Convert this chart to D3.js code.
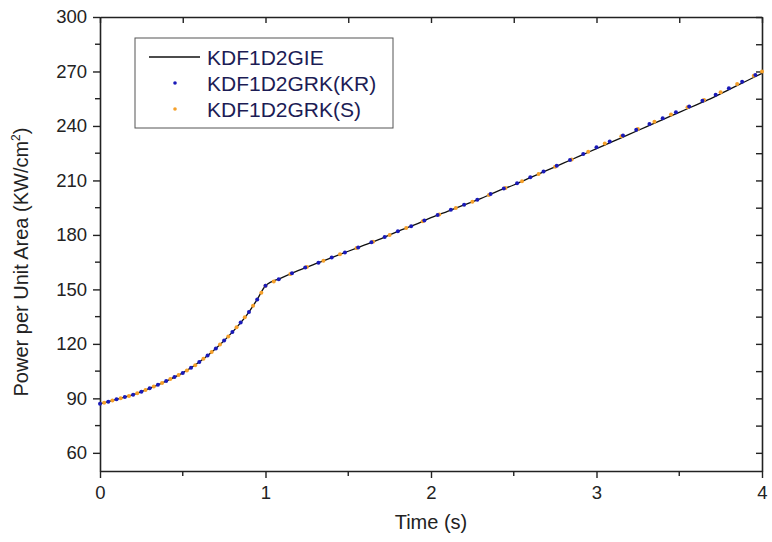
<!DOCTYPE html>
<html>
<head>
<meta charset="utf-8">
<script src="https://cdn.jsdelivr.net/npm/d3@7"></script>
<style>
body { margin:0; background:#fff; }
text { font-family: Arial, "Liberation Sans", sans-serif; }
</style>
</head>
<body>
<div class="chart"></div>
<script>
// KDF1D2GIE (solid line)
var lineTime = [0,0.1,0.2,0.3,0.4,0.5,0.6,0.7,0.8,0.9,0.95,1.0,1.1,1.2,1.3,1.4,1.5,1.6,1.7,1.8,1.9,2.0,
    2.1,2.2,2.3,2.4,2.5,2.6,2.7,2.8,2.9,3.0,3.1,3.2,3.3,3.4,3.5,3.6,3.7,3.8,3.9,4.0];
var linePower = [87,89.5,92,95.5,99.5,104,110,117.5,126.5,137.5,144.5,152,156.5,160.5,164,167.5,171,174.5,178,182,185.5,189.5,
    193,196.5,200,204,207.5,211.5,215.5,219.5,223.5,227.5,231.5,235.5,239.5,243.5,247.5,251.5,255.5,260,264.5,269];

// KDF1D2GRK(KR) dots
var krTime = [0,0.05,0.1,0.15,0.2,0.25,0.3,0.35,0.4,0.45,0.5,0.55,0.6,0.65,0.7,0.75,0.8,0.85,0.9,0.95,1.0,
    1.08,1.16,1.24,1.32,1.40,1.48,1.56,1.64,1.72,1.80,1.88,1.96,2.04,2.12,2.20,2.28,2.36,2.44,2.52,2.60,
    2.68,2.76,2.84,2.92,3.00,3.08,3.16,3.24,3.32,3.40,3.48,3.56,3.64,3.72,3.80,3.88,3.96];
var krPower = [87,88.2,89.5,90.7,92,93.7,95.5,97.5,99.5,101.7,104,106.8,110,113.6,117.5,121.8,126.5,131.8,137.5,144.5,152,
    155.6,158.9,162,164.7,167.5,170.3,173.1,175.9,178.8,182,184.8,187.9,191,193.8,196.6,199.4,202.5,205.5,208.4,211.7,
    214.9,218.1,221.3,224.5,228.3,231.5,234.7,237.9,241.1,244.3,247.5,250.7,253.9,257.2,260.8,264.4,268];

// KDF1D2GRK(S) dots
var sTime = [0.025,0.075,0.125,0.175,0.225,0.275,0.325,0.375,0.425,0.475,0.525,0.575,0.625,0.675,0.725,0.775,0.825,0.875,0.925,0.975,1.0,
    1.05,1.15,1.25,1.35,1.45,1.55,1.65,1.75,1.85,1.95,2.05,2.15,2.25,2.35,2.45,2.55,2.65,2.75,2.85,2.95,
    3.05,3.15,3.25,3.35,3.45,3.55,3.65,3.75,3.85,3.95,4.0];
var sPower = [87.6,88.8,90.1,91.3,92.8,94.6,96.5,98.5,100.6,102.8,105.4,108.3,111.8,115.5,119.6,124.1,129.1,134.6,141,148.2,152,
    154.3,158.5,162.3,165.8,169.3,172.8,176.3,180,183.8,187.5,191.3,194.8,198.3,202,205.8,209.5,213.5,217.5,221.5,225.8,
    230.3,234.3,238.3,242.3,246.3,250.3,254.3,258.6,263.1,267.6,270];

var xTicks = [0,1,2,3,4];
var yTicks = [60,90,120,150,180,210,240,270,300];
var legendNames = ['KDF1D2GIE','KDF1D2GRK(KR)','KDF1D2GRK(S)'];

var width = 772, height = 542;
var plotLeft = 100, plotRight = 762, plotTop = 17, plotBottom = 471;
var frameColor = '#222';
var blue = '#1a1ab8', orange = '#f5a02a';

var svg = d3.select('.chart')
    .append('svg')
    .attr('width', width)
    .attr('height', height);

var xScale = d3.scaleLinear().domain([0,4]).range([plotLeft, plotRight]);
var yScale = d3.scaleLinear().domain([50,300]).range([plotBottom, plotTop]);

var xMinor = [0.5,1.5,2.5,3.5];
var yMinor = [75,105,135,165,195,225,255,285];

// bottom axis, ticks outward
var bottomAxis = svg.append('g')
    .attr('transform', 'translate(0,' + plotBottom + ')')
    .call(d3.axisBottom(xScale).tickValues(xTicks).tickSize(7).tickPadding(8).tickSizeOuter(0).tickFormat(d3.format('d')));
bottomAxis.append('g').attr('class', 'minor').selectAll('line').data(xMinor).enter().append('line')
    .attr('x1', d => xScale(d)).attr('x2', d => xScale(d)).attr('y1', 0).attr('y2', 5);

// left axis, ticks outward
var leftAxis = svg.append('g')
    .attr('transform', 'translate(' + plotLeft + ',0)')
    .call(d3.axisLeft(yScale).tickValues(yTicks).tickSize(7).tickPadding(6).tickSizeOuter(0));
leftAxis.append('g').attr('class', 'minor').selectAll('line').data(yMinor).enter().append('line')
    .attr('x1', 0).attr('x2', -5).attr('y1', d => yScale(d)).attr('y2', d => yScale(d));

// top axis, ticks inward
svg.append('g')
    .attr('transform', 'translate(0,' + plotTop + ')')
    .call(d3.axisBottom(xScale).tickValues(xTicks.concat(xMinor)).tickSize(6).tickFormat('').tickSizeOuter(0));

// right axis, ticks inward
svg.append('g')
    .attr('transform', 'translate(' + plotRight + ',0)')
    .call(d3.axisLeft(yScale).tickValues(yTicks.concat(yMinor)).tickSize(6).tickFormat('').tickSizeOuter(0));

svg.selectAll('.domain').attr('stroke', frameColor).attr('stroke-width', 1.6);
svg.selectAll('.tick line').attr('stroke', frameColor).attr('stroke-width', 1.4);
svg.selectAll('.minor line').attr('stroke', frameColor).attr('stroke-width', 1.4);
svg.selectAll('.tick text')
    .attr('font-size', 18.5)
    .attr('font-family', 'Arial, "Liberation Sans", sans-serif')
    .attr('fill', '#222');

// axis titles
svg.append('text')
    .attr('x', (plotLeft + plotRight) / 2)
    .attr('y', 529)
    .attr('text-anchor', 'middle')
    .attr('font-size', 20)
    .attr('fill', '#222')
    .text('Time (s)');

var yTitle = svg.append('text')
    .attr('transform', 'translate(28,262) rotate(-90)')
    .attr('text-anchor', 'middle')
    .attr('font-size', 20)
    .attr('fill', '#222');
yTitle.append('tspan').text('Power per Unit Area  (KW/cm');
yTitle.append('tspan').attr('font-size', 12).attr('dy', -8).text('2');
yTitle.append('tspan').attr('dy', 8).text(')');

// solid line
svg.append('path')
    .datum(lineTime)
    .attr('fill', 'none')
    .attr('stroke', '#111')
    .attr('stroke-width', 1.3)
    .attr('d', d3.line()
        .x(function(d) { return xScale(d); })
        .y(function(d, i) { return yScale(linePower[i]); })
        .curve(d3.curveMonotoneX));

svg.append('g').selectAll('circle')
    .data(sTime)
    .enter()
    .append('circle')
    .attr('cx', function(d) { return xScale(d); })
    .attr('cy', function(d, i) { return yScale(sPower[i]); })
    .attr('r', 2)
    .attr('fill', orange);

svg.append('g').selectAll('circle')
    .data(krTime)
    .enter()
    .append('circle')
    .attr('cx', function(d) { return xScale(d); })
    .attr('cy', function(d, i) { return yScale(krPower[i]); })
    .attr('r', 2)
    .attr('fill', blue);

// legend
var legend = svg.append('g');
legend.append('rect')
    .attr('x', 135).attr('y', 38)
    .attr('width', 258).attr('height', 90)
    .attr('fill', '#fff')
    .attr('stroke', '#555')
    .attr('stroke-width', 1);
legend.append('line')
    .attr('x1', 149).attr('x2', 200).attr('y1', 57).attr('y2', 57)
    .attr('stroke', '#111').attr('stroke-width', 1.3);
legend.append('circle').attr('cx', 175).attr('cy', 83).attr('r', 1.8).attr('fill', blue);
legend.append('circle').attr('cx', 175).attr('cy', 109).attr('r', 1.8).attr('fill', orange);
legend.selectAll('text')
    .data(legendNames)
    .enter()
    .append('text')
    .attr('x', 207)
    .attr('y', function(d, i) { return 57 + i * 26; })
    .attr('dy', '0.36em')
    .attr('font-size', 21)
    .attr('fill', '#1c1c55')
    .text(function(d) { return d; });
</script>
</body>
</html>
